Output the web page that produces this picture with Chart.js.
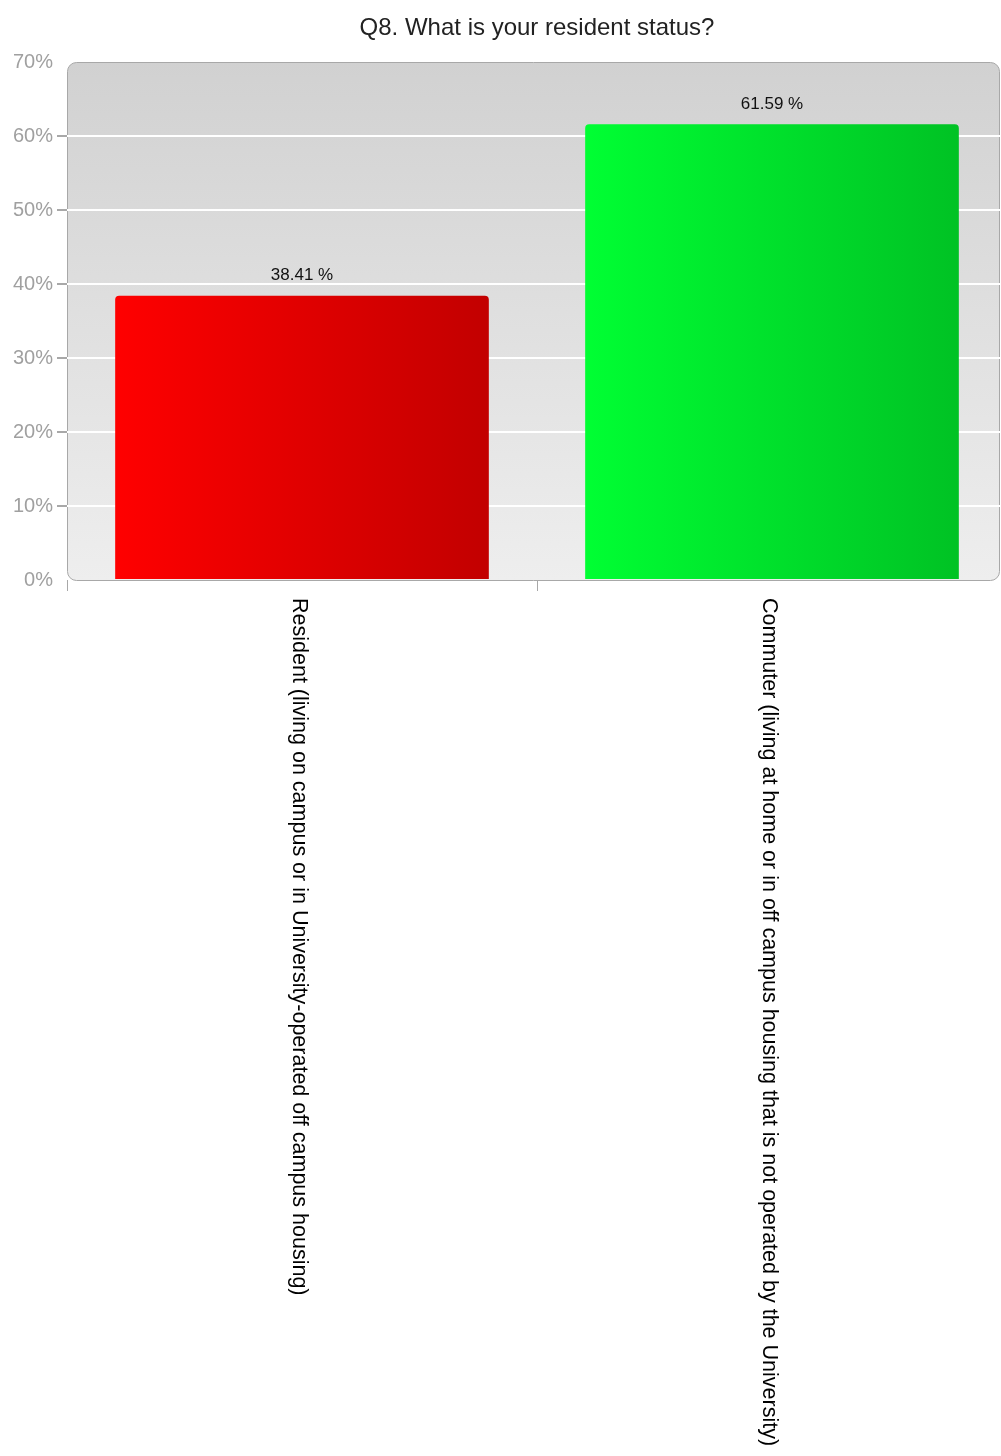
<!DOCTYPE html>
<html>
<head>
<meta charset="utf-8">
<script src="https://cdn.jsdelivr.net/npm/chart.js@4"></script>
<style>
  html, body { margin: 0; padding: 0; background: #fff; overflow: hidden; }
  #wrap { width: 1001px; height: 1456px; overflow: hidden; }
</style>
</head>
<body>
<div id="wrap"><canvas id="chart1" width="1008" height="1456"></canvas></div>
<script>
// Dati no attēla
const titleText = 'Q8. What is your resident status?';
const categories = [
    "Resident (living on campus or in University-operated off campus housing)",
    "Commuter (living at home or in off campus housing that is not operated by the University)"
];
const percents = [38.41, 61.59];
const yTicks = [0, 10, 20, 30, 40, 50, 60, 70];
const barColors = [["#ff0000", "#c20000"], ["#00ff33", "#00c224"]];

const fontName = "'Liberation Sans', Arial, sans-serif";

// Fona gradients un rāmis zīmēšanas laukumam (labā mala ir nogriezta)
const plotBackground = {
    id: 'plotBackground',
    beforeDraw(chart) {
        const a = chart.chartArea;
        const ctx = chart.ctx;
        const right = 999;
        ctx.save();
        const g = ctx.createLinearGradient(0, a.top, 0, a.bottom);
        g.addColorStop(0, '#d1d1d1');
        g.addColorStop(1, '#eeeeee');
        ctx.beginPath();
        ctx.roundRect(a.left + 0.5, a.top + 0.5, right - a.left, a.bottom - a.top, 9);
        ctx.fillStyle = g;
        ctx.fill();
        ctx.strokeStyle = '#a8a8a8';
        ctx.lineWidth = 1;
        ctx.stroke();
        ctx.restore();
    }
};

// Virsraksts, vērtības virs stabiņiem un pagrieztie kategoriju nosaukumi
const labelsPlugin = {
    id: 'labelsPlugin',
    afterDatasetsDraw(chart) {
        const ctx = chart.ctx;
        ctx.save();
        ctx.fillStyle = '#111';
        ctx.font = '17px ' + fontName;
        ctx.textAlign = 'center';
        ctx.textBaseline = 'middle';
        chart.getDatasetMeta(0).data.forEach((bar, i) => {
            ctx.fillText(percents[i].toFixed(2) + ' %', bar.x, bar.y - 20);
        });
        ctx.restore();
    },
    afterDraw(chart) {
        const ctx = chart.ctx;
        const xs = chart.scales.x;
        ctx.save();
        ctx.fillStyle = '#222';
        ctx.font = '24px ' + fontName;
        ctx.textAlign = 'center';
        ctx.textBaseline = 'middle';
        ctx.fillText(titleText, 537, 28);

        ctx.fillStyle = '#000';
        ctx.font = '21.5px ' + fontName;
        ctx.textAlign = 'left';
        categories.forEach((c, i) => {
            ctx.save();
            ctx.translate(xs.getPixelForValue(i) - 3, chart.chartArea.bottom + 18);
            ctx.rotate(Math.PI / 2);
            ctx.fillText(c, 0, 0);
            ctx.restore();
        });
        ctx.restore();
    }
};

function barGradient(context) {
    const chart = context.chart;
    const xs = chart.scales.x;
    if (!xs || xs.width === undefined) return barColors[context.dataIndex][0];
    const cx = xs.getPixelForValue(context.dataIndex);
    const half = xs.width / categories.length * 0.8 / 2;
    const g = chart.ctx.createLinearGradient(cx - half, 0, cx + half, 0);
    g.addColorStop(0, barColors[context.dataIndex][0]);
    g.addColorStop(1, barColors[context.dataIndex][1]);
    return g;
}

const edge = v => (v === 0 || v === 70);

const ctx1 = document.getElementById('chart1').getContext('2d');
const chart1 = new Chart(ctx1, {
    type: 'bar',
    data: {
        labels: categories,
        datasets: [{
            data: percents,
            backgroundColor: barGradient,
            borderWidth: 0,
            borderRadius: { topLeft: 4, topRight: 4 },
            borderSkipped: 'bottom',
            categoryPercentage: 1,
            barPercentage: 0.795
        }]
    },
    plugins: [plotBackground, labelsPlugin],
    options: {
        responsive: false,
        animation: false,
        layout: { padding: { left: 0, right: 1, top: 62, bottom: 0 } },
        plugins: {
            legend: { display: false },
            tooltip: { enabled: false },
            title: { display: false }
        },
        scales: {
            x: {
                offset: true,
                grid: {
                    offset: true,
                    drawOnChartArea: false,
                    drawTicks: true,
                    tickLength: 11,
                    tickColor: '#a8a8a8'
                },
                border: { display: false },
                ticks: { display: false },
                afterFit(scale) { scale.height = 1456 - 580; }
            },
            y: {
                min: 0,
                max: 70,
                afterBuildTicks(scale) { scale.ticks = yTicks.map(v => ({ value: v })); },
                grid: {
                    color: c => edge(c.tick.value) ? 'rgba(0,0,0,0)' : '#ffffff',
                    lineWidth: 2,
                    tickColor: c => edge(c.tick.value) ? 'rgba(0,0,0,0)' : '#a8a8a8',
                    tickLength: 10,
                    drawTicks: true
                },
                border: { display: false },
                ticks: {
                    color: '#a0a0a0',
                    padding: 4,
                    font: { family: fontName, size: 20 },
                    callback: v => v + '%'
                },
                afterFit(scale) { scale.width = 67; }
            }
        }
    }
});
</script>
</body>
</html>
